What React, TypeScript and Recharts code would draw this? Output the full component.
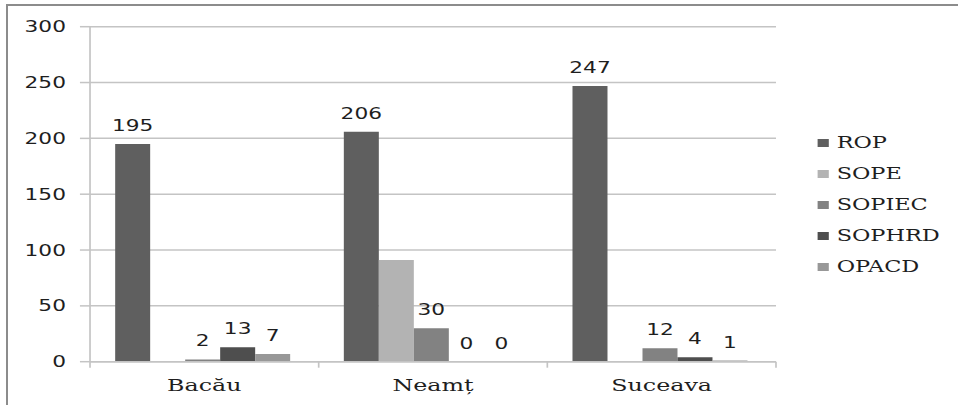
import { Bar, BarChart, CartesianGrid, Legend, Rectangle, XAxis, YAxis } from "recharts";

const counties = ["Bacău", "Neamț", "Suceava"];
const rop = [195, 206, 247];
const sope = [0, 91, 0];
const sopiec = [2, 30, 12];
const sophrd = [13, 0, 4];
const opacd = [7, 0, 1];
const yTicks = [0, 50, 100, 150, 200, 250, 300];

// SOPE has no value labels in the printed chart
const series = [
  { key: "ROP", values: rop, color: "#5f5f5f", labelled: true },
  { key: "SOPE", values: sope, color: "#b3b3b3", labelled: false },
  { key: "SOPIEC", values: sopiec, color: "#828282", labelled: true },
  { key: "SOPHRD", values: sophrd, color: "#4e4e4e", labelled: true },
  { key: "OPACD", values: opacd, color: "#989898", labelled: true },
];

const data = counties.map((county, i) => {
  const row: Record<string, string | number> = { county };
  series.forEach((s) => {
    row[s.key] = s.values[i];
  });
  return row;
});

// the whole chart is drawn narrow and stretched sideways, like the exported image
const STRETCH = 1.4;
const WIDTH = 958 / STRETCH;
const HEIGHT = 405;
const GRID = "#c4c4c4";
const INK = "#1e1e1e";
const SANS = "DejaVu Sans, Verdana, sans-serif";
const SERIF = "DejaVu Serif, Liberation Serif, serif";

function CountyTick({ x, y, payload, index, visibleTicksCount }: any) {
  const half = payload.offset ?? 0;
  const last = index === visibleTicksCount - 1;
  return (
    <g>
      <line x1={x - half} x2={x - half} y1={y} y2={y + 6} stroke={GRID} strokeWidth={1.2} />
      {last && <line x1={x + half} x2={x + half} y1={y} y2={y + 6} stroke={GRID} strokeWidth={1.2} />}
      <text x={x} y={y + 29} textAnchor="middle" style={{ fontFamily: SERIF, fontSize: 17 }} fill={INK}>
        {payload.value}
      </text>
    </g>
  );
}

// bar plus its value above it; zero-height bars still get their "0"
function labelledShape(key: string) {
  return (props: any) => {
    const { x, y, width, height, fill, payload } = props;
    return (
      <g>
        {height > 0 && <Rectangle x={x} y={y} width={width} height={height} fill={fill} />}
        <text
          x={x + width / 2}
          y={y - 13}
          textAnchor="middle"
          style={{ fontFamily: SANS, fontSize: 15.5 }}
          fill={INK}
        >
          {String(payload[key])}
        </text>
      </g>
    );
  };
}

function SeriesLegend() {
  return (
    <div>
      {series.map((s) => (
        <div key={s.key} style={{ display: "flex", alignItems: "center", height: 31 }}>
          <span style={{ width: 8, height: 8, background: s.color, marginRight: 6 }} />
          <span style={{ fontFamily: SERIF, fontSize: 16, color: INK, lineHeight: 1 }}>{s.key}</span>
        </div>
      ))}
    </div>
  );
}

export default function App() {
  return (
    <div style={{ position: "absolute", left: 0, top: 0, width: 958, height: HEIGHT, overflow: "hidden", background: "#fff" }}>
      <div
        style={{
          position: "absolute",
          left: 6,
          top: 4,
          width: 980,
          height: 420,
          borderTop: "2px solid #8c8c8c",
          borderLeft: "2px solid #8c8c8c",
        }}
      />
      <div style={{ position: "absolute", left: 0, top: 0, transform: `scaleX(${STRETCH})`, transformOrigin: "0 0" }}>
        <BarChart
          width={WIDTH}
          height={HEIGHT}
          data={data}
          margin={{ top: 26.7, right: 130, bottom: 0, left: 0 }}
          barCategoryGap="11%"
          barGap={0}
        >
          <CartesianGrid vertical={false} stroke={GRID} strokeWidth={1.5} />
          <XAxis
            dataKey="county"
            height={43.3}
            tickSize={0}
            tickMargin={0}
            tickLine={false}
            axisLine={{ stroke: GRID, strokeWidth: 1.5 }}
            tick={<CountyTick />}
            interval={0}
          />
          <YAxis
            width={64.3}
            domain={[0, 300]}
            ticks={yTicks}
            interval={0}
            tickSize={7.2}
            tickMargin={10}
            tickLine={{ stroke: GRID, strokeWidth: 1.5 }}
            axisLine={{ stroke: GRID, strokeWidth: 1.2 }}
            tick={{ fontFamily: SANS, fontSize: 15.5, fill: INK }}
          />
          <Legend
            layout="vertical"
            align="center"
            verticalAlign="middle"
            content={<SeriesLegend />}
            wrapperStyle={{ left: 583.6, top: 127.5 }}
          />
          {series.map((s) => (
            <Bar
              key={s.key}
              dataKey={s.key}
              fill={s.color}
              isAnimationActive={false}
              shape={s.labelled ? labelledShape(s.key) : undefined}
            />
          ))}
        </BarChart>
      </div>
    </div>
  );
}
